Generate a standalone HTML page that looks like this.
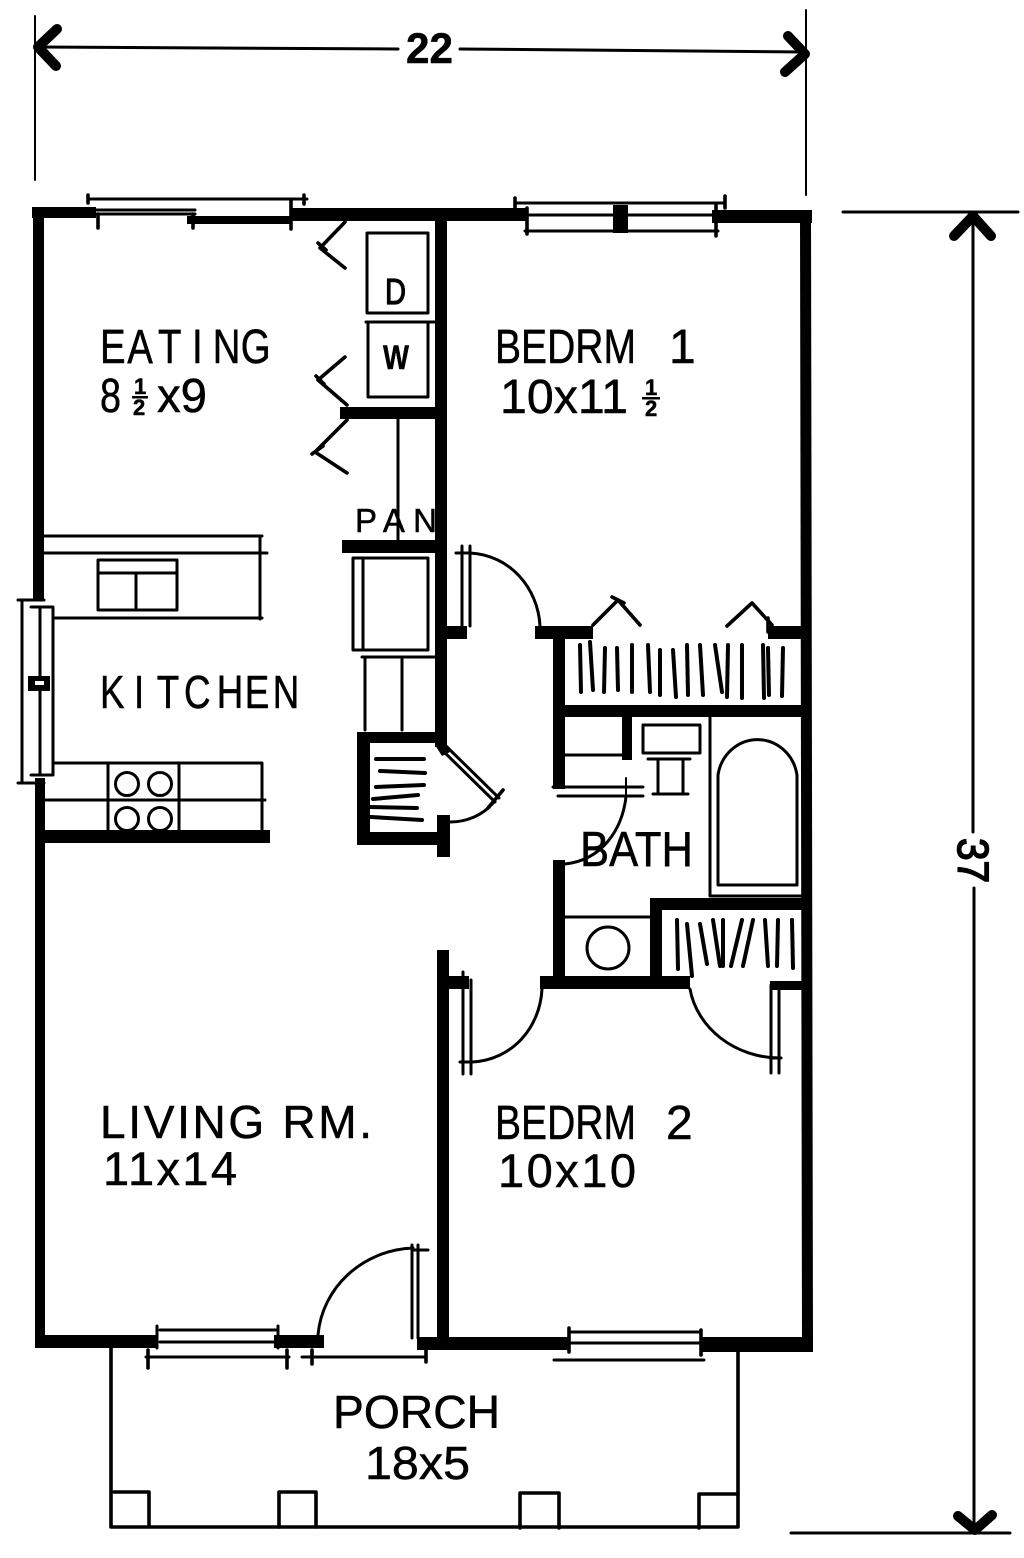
<!DOCTYPE html>
<html><head><meta charset="utf-8">
<style>
html,body{margin:0;padding:0;background:#fff}
svg{display:block}
text{font-family:"Liberation Sans",sans-serif;fill:#000;stroke:#000;stroke-width:.5}
.l{fill:none;stroke:#000;stroke-width:3;stroke-linecap:round;stroke-linejoin:round}
.t{fill:none;stroke:#000;stroke-width:2;stroke-linecap:round}
.h{fill:none;stroke:#000;stroke-width:4;stroke-linecap:round}
.a{fill:none;stroke:#000;stroke-width:10;stroke-linecap:round;stroke-linejoin:round}
.c{fill:none;stroke:#000;stroke-width:3.6;stroke-linecap:round;stroke-linejoin:round}
</style></head>
<body>
<svg xmlns="http://www.w3.org/2000/svg" width="1024" height="1558" viewBox="0 0 1024 1558">
<rect width="1024" height="1558" fill="#fff"/>

<!-- dimensions -->
<path class="t" d="M35 16V180M806 10V195"/>
<path class="l" d="M38 47L398 49M460 49L804 52"/>
<path class="a" d="M57 29L38 47L56 66"/>
<path class="a" d="M788 36L805 54L785 72"/>
<text x="406" y="63" font-size="43" font-weight="bold" textLength="47" lengthAdjust="spacingAndGlyphs">22</text>
<path class="l" d="M843 212H1018M791 1533H1010"/>
<path class="l" d="M973 214V832M974 888V1530"/>
<path class="a" d="M954 236L973 216L991 236"/>
<path class="a" d="M958 1516L975 1530L992 1515"/>
<text transform="translate(958,838) rotate(90)" font-size="44" stroke-width="1.6" textLength="45" lengthAdjust="spacingAndGlyphs" style="stroke-width:1.6">37</text>

<!-- labels below walls -->
<text x="355" y="532" font-size="33" textLength="82" lengthAdjust="spacing">PAN</text>

<!-- walls -->
<g fill="#000">
<rect x="32" y="207" width="64" height="11"/>
<rect x="33" y="207" width="11" height="394"/>
<rect x="35" y="778" width="10" height="570"/>
<rect x="35" y="1335" width="122" height="13"/>
<rect x="187" y="216" width="105" height="8"/>
<rect x="290" y="208" width="238" height="13"/>
<rect x="712" y="210" width="100" height="13"/>
<path d="M800 210H811L813 1350H802Z"/>
<rect x="613" y="205" width="15" height="28"/>
<rect x="435" y="215" width="12" height="532"/>
<path d="M435 745H447L450 752L442 756Z"/>
<rect x="340" y="407" width="95" height="12"/>
<rect x="342" y="540" width="93" height="13"/>
<rect x="44" y="830" width="226" height="13"/>
<rect x="357" y="732" width="80" height="11"/>
<rect x="357" y="732" width="13" height="113"/>
<rect x="357" y="832" width="93" height="13"/>
<rect x="437" y="815" width="13" height="42"/>
<rect x="447" y="626" width="20" height="13"/>
<rect x="535" y="626" width="58" height="13"/>
<rect x="768" y="626" width="34" height="13"/>
<rect x="553" y="626" width="12" height="163"/>
<rect x="553" y="705" width="250" height="12"/>
<rect x="622" y="717" width="10" height="43"/>
<rect x="553" y="860" width="12" height="125"/>
<rect x="540" y="976" width="150" height="13"/>
<rect x="770" y="981" width="33" height="9"/>
<rect x="650" y="898" width="153" height="12"/>
<rect x="650" y="898" width="12" height="85"/>
<rect x="437" y="950" width="12" height="395"/>
<rect x="449" y="976" width="20" height="13"/>
<rect x="274" y="1335" width="50" height="13"/>
<rect x="417" y="1337" width="152" height="13"/>
<rect x="701" y="1337" width="112" height="15"/>
</g>

<!-- top windows -->
<path class="l" d="M88 199H307M96 210H195M96 214H195M527 215H712M525 231H718M515 203H725"/>
<path class="c" d="M98 214V228M193 214V228M291 200V229M88 195V203M304 195V204M515 198V208M725 196V208M527 208V234M716 205V236"/>

<!-- D W chevrons -->
<path class="c" d="M345 222L320 248L345 268M318 243L326 250"/>
<path class="c" d="M345 357L318 380L347 405M316 376L324 384"/>
<path class="c" d="M347 420L315 452L347 473M312 454L323 446"/>
<path class="l" d="M367 233H428V313H367ZM368 322H428V397H368ZM366 322H435M398 419V540"/>

<!-- kitchen upper counter -->
<path class="l" d="M44 536H262M44 553H267M260 536V619M55 618H262"/>
<path class="l" d="M98 560H177V610H98ZM98 573H177M136 573V610"/>

<!-- left window -->
<path class="l" d="M22 600V783M40 607V775M53 607V775M18 600H44M18 783H44M31 607H53M31 775H53"/>
<rect x="28" y="676" width="22" height="15" fill="#000"/>
<rect x="35" y="681" width="9" height="4" fill="#fff"/>

<!-- stove -->
<path class="l" d="M53 763H262M44 800H265M262 763V830M108 763V832M179 763V832"/>
<g fill="none" stroke="#000" stroke-width="3">
<circle cx="127" cy="784" r="11.5"/><circle cx="160" cy="784" r="11.5"/>
<circle cx="127" cy="819" r="11.5"/><circle cx="160" cy="819" r="11.5"/>
</g>

<!-- fridge and cabinets -->
<path class="l" d="M353 558H428V650H353ZM363 558V650M362 657H435M365 657V730M402 657V730"/>

<!-- water heater closet -->
<path class="h" d="M376 759L424 759M380 771L425 773M376 787L424 785M373 799L418 795M370 807L417 808M371 817L422 820"/>
<path class="l" d="M438 746L495 802M446 746L499 798"/>
<path class="c" d="M488 808L503 790"/>
<path class="l" d="M450 822C467 822 483 815 493 803"/>

<!-- bedroom 1 door -->
<path class="l" d="M462 546V626M470 546V626M456 553H470"/>
<path class="l" d="M470 553C510 555 538 588 540 626"/>

<!-- closet 1 -->
<path class="c" d="M593 625L618 600L640 625M612 597L624 603"/>
<path class="c" d="M727 626L752 603L772 625M768 618V632"/>
<path class="h" d="M580 645L581 692M590 642L593 690M605 648L604 692M617 648L618 690M632 645L632 692M648 645L650 692M660 650L660 695M673 650L676 697M687 645L688 695M700 645L703 695M715 645L722 692M728 645L727 697M742 645L742 698M763 645L764 698M768 648L769 695M783 648L782 696"/>

<!-- bath -->
<path class="l" d="M565 755H622"/>
<path class="l" d="M553 787H643M558 796H643"/>
<path class="t" d="M626 778V800"/>
<path class="l" d="M626 797C622 830 602 860 565 864"/>
<path class="l" d="M643 725H700V753H643ZM648 759H690M658 759V794H683V759M653 794H688"/>
<path class="l" d="M710 717V896M797 885V775A40 42 0 0 0 718 775V885H797M710 896H802"/>
<path class="l" d="M565 917H650"/>
<circle cx="608" cy="948" r="21" fill="none" stroke="#000" stroke-width="3"/>

<!-- closet 2 -->
<path class="h" d="M677 920L678 969M687 924L692 976M700 924L707 964M713 920L720 966M723 920L723 966M742 920L731 966M753 920L743 966M765 920L768 966M778 920L777 966M792 920L793 968"/>

<!-- bedroom 2 doors -->
<path class="l" d="M463 972V1074M471 980V1074M460 1062H472"/>
<path class="l" d="M472 1062C512 1060 540 1028 542 989"/>
<path class="l" d="M771 985V1073M779 985V1073M770 1058H781"/>
<path class="l" d="M690 989C697 1028 735 1058 780 1058"/>

<!-- front door and bottom windows -->
<path class="l" d="M160 1330H278M160 1342H278M146 1357H289M157 1326V1348M278 1326V1348"/>
<path class="c" d="M148 1350V1368M287 1350V1368"/>
<path class="l" d="M302 1357H426"/>
<path class="c" d="M312 1350V1364M426 1345V1362"/>
<path class="l" d="M318 1335C322 1288 362 1250 413 1248"/>
<path class="l" d="M412 1245V1338M418 1245V1338M413 1250H428"/>
<path class="l" d="M570 1332H701M570 1343H701M554 1360H704"/>
<path class="c" d="M569 1328V1352M701 1330V1355"/>

<!-- porch -->
<path class="c" d="M111 1348V1527H738V1352"/>
<path class="c" d="M114 1492H149V1525M279 1527V1492H316V1527M520 1528V1493H559V1528M699 1528V1494H738"/>

<!-- room labels -->
<text transform="translate(0,363) scale(.8,1)" font-size="48" x="125 159 197.5 240 266 301">EATING</text>
<text x="100" y="412" font-size="48" textLength="21" lengthAdjust="spacingAndGlyphs">8</text>
<text x="134" y="394" font-size="22" font-weight="bold">1</text>
<rect x="132" y="396" width="16" height="2.5" fill="#000"/>
<text x="133" y="415" font-size="22" font-weight="bold">2</text>
<text x="157" y="412" font-size="48" textLength="50" lengthAdjust="spacingAndGlyphs">x9</text>
<text transform="translate(0,708) scale(.8,1)" font-size="46" x="125 167.5 196 230 271 306 341">KITCHEN</text>
<text x="495" y="363" font-size="48" textLength="141" lengthAdjust="spacingAndGlyphs">BEDRM</text>
<text x="669" y="363" font-size="48">1</text>
<text x="500" y="413" font-size="48" textLength="128" lengthAdjust="spacingAndGlyphs">10x11</text>
<text x="645" y="395" font-size="22" font-weight="bold">1</text>
<rect x="642" y="397" width="18" height="2.5" fill="#000"/>
<text x="645" y="416" font-size="22" font-weight="bold">2</text>
<text x="580" y="866" font-size="49" textLength="113" lengthAdjust="spacingAndGlyphs">BATH</text>
<text x="100" y="1138" font-size="46" textLength="272" lengthAdjust="spacing">LIVING RM.</text>
<text x="103" y="1185" font-size="47" textLength="134" lengthAdjust="spacing">11x14</text>
<text x="495" y="1139" font-size="48" textLength="141" lengthAdjust="spacingAndGlyphs">BEDRM</text>
<text x="666" y="1139" font-size="48">2</text>
<text x="498" y="1187" font-size="47" textLength="138" lengthAdjust="spacing">10x10</text>
<text x="333" y="1428" font-size="46" textLength="167" lengthAdjust="spacingAndGlyphs">PORCH</text>
<text x="365" y="1479" font-size="46" textLength="105" lengthAdjust="spacingAndGlyphs">18x5</text>
<text x="385" y="304" font-size="36" textLength="21" lengthAdjust="spacingAndGlyphs" style="stroke-width:1.2">D</text>
<text x="383" y="369" font-size="34" font-weight="bold" textLength="26" lengthAdjust="spacingAndGlyphs">W</text>
</svg>
</body></html>
